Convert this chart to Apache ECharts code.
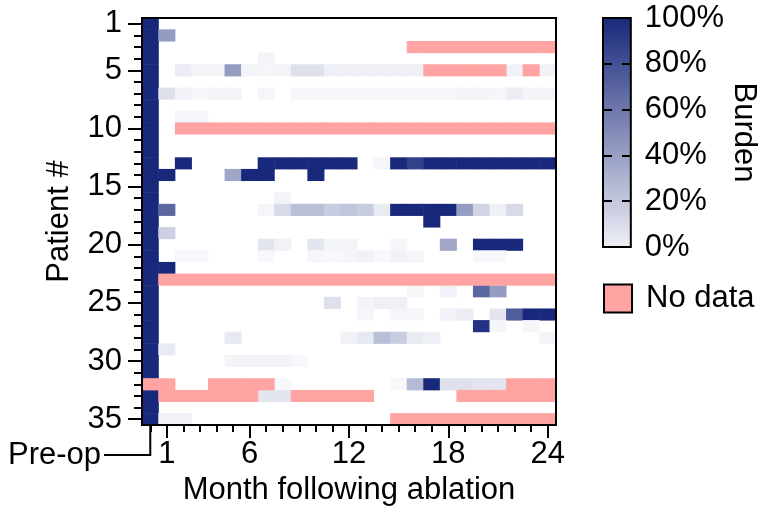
<!DOCTYPE html>
<html><head><meta charset="utf-8">
<script src="https://cdn.jsdelivr.net/npm/echarts@6/dist/echarts.min.js"></script>
<style>html,body{margin:0;padding:0;background:#fff}#c{width:760px;height:523px}</style>
</head><body><div id="c"></div>
<script>
// ---- data ----
const months = ['Pre-op','1','2','3','4','5','6','7','8','9','10','11','12','13','14','15','16','17','18','19','20','21','22','23','24'];
const patients = ['1','2','3','4','5','6','7','8','9','10','11','12','13','14','15','16','17','18','19','20','21','22','23','24','25','26','27','28','29','30','31','32','33','34','35'];
const xLabelShown = ['1','6','12','18','24'];
const yLabelShown = ['1','5','10','15','20','25','30','35'];
const N = null; // no data
const burden = [
 [100,0,0,0,0,0,0,0,0,0,0,0,0,0,0,0,0,0,0,0,0,0,0,0,0],
 [100,45,0,0,0,0,0,0,0,0,0,0,0,0,0,0,0,0,0,0,0,0,0,0,0],
 [100,0,0,0,0,0,0,0,0,0,0,0,0,0,0,0,N,N,N,N,N,N,N,N,N],
 [100,0,0,0,0,0,0,3,0,0,0,0,0,0,0,0,0,0,0,0,0,0,0,0,0],
 [100,0,6,3,3,45,3,2,3,12,12,5,5,5,5,5,5,N,N,N,N,N,4,N,4],
 [100,0,0,0,0,0,0,0,0,0,0,0,0,0,0,0,0,0,0,0,0,0,0,0,0],
 [100,12,4,1,3,3,0,2,0,2,2,2,2,2,2,2,2,2,2,3,3,2,6,3,3],
 [100,0,0,0,0,0,0,0,0,0,0,0,0,0,0,0,0,0,0,0,0,0,0,0,0],
 [100,0,2,2,0,0,0,0,0,0,0,0,0,0,0,0,0,0,0,0,0,0,0,0,0],
 [100,0,N,N,N,N,N,N,N,N,N,N,N,N,N,N,N,N,N,N,N,N,N,N,N],
 [100,0,0,0,0,0,0,0,0,0,0,0,0,0,0,0,0,0,0,0,0,0,0,0,0],
 [100,0,0,0,0,0,0,0,0,0,0,0,0,0,0,0,0,0,0,0,0,0,0,0,0],
 [100,0,100,0,0,0,0,100,100,100,100,100,100,0,2,100,88,100,100,100,100,100,100,100,100],
 [100,100,0,0,0,40,100,100,0,0,100,0,0,0,0,0,0,0,0,0,0,0,0,0,0],
 [100,0,0,0,0,0,0,0,0,0,0,0,0,0,0,0,0,0,0,0,0,0,0,0,0],
 [100,0,0,0,0,0,0,0,3,0,0,0,0,0,0,0,0,0,0,0,0,0,0,0,0],
 [100,70,0,0,0,0,0,2,15,28,28,22,25,22,7,100,100,100,100,45,18,5,15,0,0],
 [100,0,0,0,0,0,0,0,0,0,0,0,0,0,0,0,0,100,0,0,0,0,0,0,0],
 [100,20,0,0,0,0,0,0,0,0,0,0,0,0,0,0,0,0,0,0,0,0,0,0,0],
 [100,0,0,0,0,0,0,10,4,0,10,3,3,0,0,2,0,0,40,0,100,100,100,0,0],
 [100,0,1,1,0,0,0,1,0,0,2,1,2,4,1,4,2,0,0,0,1,1,0,0,0],
 [100,100,0,0,0,0,0,0,0,0,0,0,0,0,0,0,0,0,0,0,0,0,0,0,0],
 [100,N,N,N,N,N,N,N,N,N,N,N,N,N,N,N,N,N,N,N,N,N,N,N,N],
 [100,0,0,0,0,0,0,0,0,0,0,0,0,0,0,0,2,0,4,0,70,45,0,0,0],
 [100,0,0,0,0,0,0,0,0,0,0,12,0,3,5,5,0,0,0,0,0,0,0,0,0],
 [100,0,0,0,0,0,0,0,0,0,0,0,0,2,0,2,2,0,4,6,0,10,75,100,100],
 [100,0,0,0,0,0,0,0,0,0,0,0,0,0,0,0,0,0,0,0,95,2,0,2,0],
 [100,0,0,0,0,8,0,0,0,0,0,0,4,8,28,22,7,5,0,0,0,0,0,0,3],
 [100,7,0,0,0,0,0,0,0,0,0,0,0,0,0,0,0,0,0,0,0,0,0,0,0],
 [100,0,0,0,0,3,3,3,3,1,0,0,0,0,0,0,0,0,0,0,0,0,0,0,0],
 [100,0,0,0,0,0,0,0,0,0,0,0,0,0,0,0,0,0,0,0,0,0,0,0,0],
 [N,N,0,0,N,N,N,N,1,0,0,0,0,0,0,1,30,100,12,12,10,10,N,N,N],
 [100,N,N,N,N,N,N,10,10,N,N,N,N,N,0,0,0,0,0,N,N,N,N,N,N],
 [100,0,0,0,0,0,0,0,0,0,0,0,0,0,0,0,0,0,0,0,0,0,0,0,0],
 [100,4,4,0,0,0,0,0,0,0,0,0,0,0,0,N,N,N,N,N,N,N,N,N,N]
];
const colorbarTicks = [0, 20, 40, 60, 80, 100];

// ---- styles ----
const FONT = '"Liberation Sans", Arial, sans-serif';
const LOW = '#f9fafc', HIGH = '#18287a', PINK = '#ffa3a3';

const cells = [], missing = [];
burden.forEach((row, r) => row.forEach((v, c) => {
  if (v === null) missing.push([c, r, 1]);
  else if (v > 0) cells.push([c, r, v]);
}));

const chart = echarts.init(document.getElementById('c'), null, {renderer: 'canvas'});
const txt = {color: '#000', fontFamily: FONT, fontSize: 31};
const blk = {color: '#000', width: 2};

chart.setOption({
  animation: false,
  backgroundColor: '#fff',
  grid: [
    {left: 142, top: 18, width: 414, height: 407, show: true, borderColor: '#000', borderWidth: 2, backgroundColor: 'transparent', z: 10},
    {left: 603, top: 18, width: 28, height: 229, show: true, borderColor: '#000', borderWidth: 2, z: 1,
     backgroundColor: new echarts.graphic.LinearGradient(0, 0, 0, 1, [{offset: 0, color: HIGH}, {offset: 1, color: '#eff0f6'}])}
  ],
  xAxis: [
    {type: 'category', gridIndex: 0, data: months, position: 'bottom', z: 11,
     axisLine: {show: true, lineStyle: blk}, axisTick: {show: true, alignWithLabel: true, interval: 0, length: 7, lineStyle: blk},
     axisLabel: {show: false}, splitLine: {show: false}},
    {type: 'category', gridIndex: 0, data: months, position: 'bottom', z: 11,
     name: 'Month following ablation', nameLocation: 'middle', nameGap: 36, nameTextStyle: txt,
     axisLine: {show: false},
     axisTick: {show: true, alignWithLabel: true, length: 13, lineStyle: blk, interval: (i, v) => xLabelShown.includes(v)},
     axisLabel: Object.assign({interval: (i, v) => xLabelShown.includes(v), margin: 14}, txt)},
    {type: 'value', gridIndex: 1, show: false, min: 0, max: 1}
  ],
  yAxis: [
    {type: 'category', gridIndex: 0, data: patients, inverse: true, position: 'left', z: 11,
     axisLine: {show: true, lineStyle: blk}, axisTick: {show: true, alignWithLabel: true, interval: 0, length: 8, lineStyle: blk},
     axisLabel: {show: false}, splitLine: {show: false}},
    {type: 'category', gridIndex: 0, data: patients, inverse: true, position: 'left', z: 11,
     name: 'Patient #', nameLocation: 'middle', nameRotate: 90, nameGap: 67, nameTextStyle: txt,
     axisLine: {show: false},
     axisTick: {show: true, alignWithLabel: true, length: 14, lineStyle: blk, interval: (i, v) => yLabelShown.includes(v)},
     axisLabel: Object.assign({interval: (i, v) => yLabelShown.includes(v), margin: 20}, txt)},
    {type: 'value', gridIndex: 1, position: 'right', min: colorbarTicks[0], max: colorbarTicks[colorbarTicks.length - 1], interval: 20, z: 5,
     name: 'Burden', nameLocation: 'middle', nameRotate: -90, nameGap: 92, nameTextStyle: txt,
     axisLine: {show: false}, axisTick: {show: false},
     axisLabel: Object.assign({formatter: v => v + '%', margin: 14}, txt),
     splitLine: {show: true, lineStyle: {color: '#000', width: 2, type: [9, 10]}}}
  ],
  visualMap: {type: 'continuous', min: 0, max: 100, seriesIndex: 0, show: false, inRange: {color: [LOW, HIGH]}},
  legend: {left: 603, top: 283, padding: 0, selectedMode: false, itemWidth: 28, itemHeight: 28,
    textStyle: Object.assign({padding: [0, 0, 0, 9]}, txt),
    data: [{name: 'No data', icon: 'rect', itemStyle: {color: PINK, borderColor: '#000', borderWidth: 2}}]},
  series: [
    {type: 'heatmap', name: 'Burden', xAxisIndex: 0, yAxisIndex: 0, data: cells, progressive: 0},
    {type: 'heatmap', name: 'No data', xAxisIndex: 0, yAxisIndex: 0, data: missing, progressive: 0, itemStyle: {color: PINK}}
  ]
});

const px = chart.convertToPixel({xAxisIndex: 0}, 'Pre-op');
const bottom = 18 + 407;
chart.setOption({
  graphic: [
    {type: 'polyline', z: 20, shape: {points: [[px, bottom], [px, bottom + 30], [104, bottom + 30]]}, style: {stroke: '#000', lineWidth: 2, fill: null}},
    {type: 'text', z: 20, x: 101, y: bottom + 30, style: {text: 'Pre-op', align: 'right', verticalAlign: 'middle', font: '31px ' + FONT, fill: '#000'}}
  ]
});
</script></body></html>
